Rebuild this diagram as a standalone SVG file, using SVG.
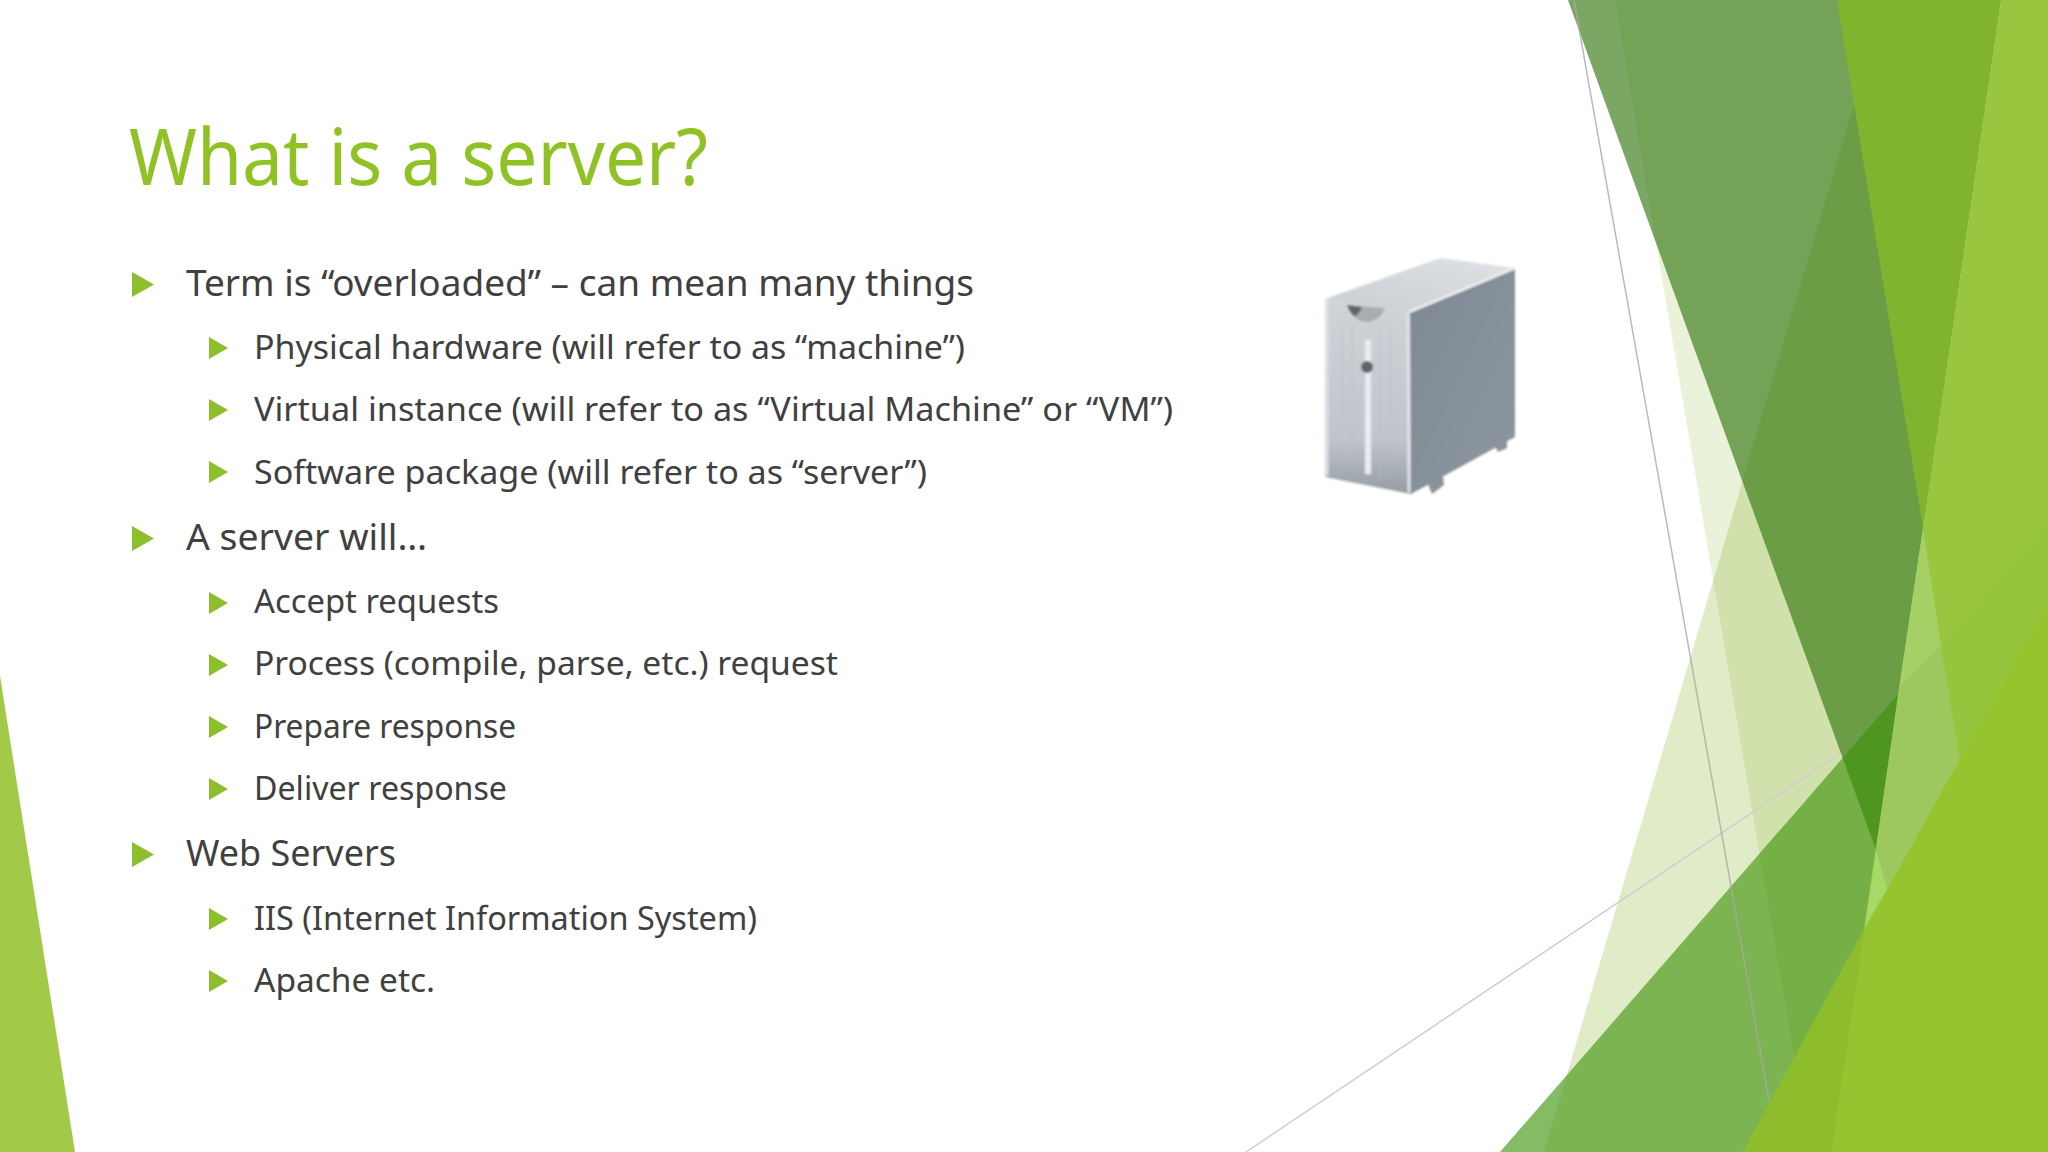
<svg xmlns="http://www.w3.org/2000/svg" width="2048" height="1152" viewBox="0 0 2048 1152">
<defs>
<linearGradient id="gTop" x1="0" y1="1" x2="1" y2="0"><stop offset="0" stop-color="#c9ced2"/><stop offset="1" stop-color="#dfe2e5"/></linearGradient>
<linearGradient id="gFront" x1="0" y1="0" x2="0" y2="1"><stop offset="0" stop-color="#cfd4d8"/><stop offset=".72" stop-color="#bfc5ca"/><stop offset="1" stop-color="#959da3"/></linearGradient>
<linearGradient id="gSide" x1="0" y1="0" x2="1" y2="1"><stop offset="0" stop-color="#7f8993"/><stop offset="1" stop-color="#8d97a0"/></linearGradient>
<filter id="soft" x="-5%" y="-5%" width="110%" height="110%"><feGaussianBlur stdDeviation="1"/></filter>
<path id="b1" d="M0 0L22 12.500L0 25Z"/>
<path id="b2" d="M0 0L19 11L0 22Z"/>
</defs>
<style>
.t{font-family:"Noto Sans",sans-serif;fill:#404040}
.l1{font-size:37px}
.l2{font-size:33px}
.bu{fill:#8DBE2B}
.pale{fill:#8DB52F}
.rib{stroke:#b4bbc1;stroke-width:1;stroke-opacity:.6}
</style>
<rect width="2048" height="1152" fill="#ffffff"/>
<g id="facets">
<polygon points="0,676 75,1152 0,1152" fill="#A2C948"/>
<polygon class="pale" fill-opacity=".18" points="1615,0 2001,0 1831,1152 1810,1152"/>
<polygon class="pale" fill-opacity=".27" points="1885,0 2001,0 1831,1152 1544,1152"/>
<line x1="1246" y1="1152" x2="1838" y2="755" stroke="#cfcdcf" stroke-width="1.500"/>
<polygon fill="#34760F" fill-opacity=".65" points="1568,0 2001,0 1876,850"/>
<polygon fill="#40940D" fill-opacity=".63" points="1500,1152 2048,522 2048,1152"/>
<line x1="1574" y1="0" x2="1769" y2="1101" stroke="#a8aaa8" stroke-width="1.500" stroke-opacity=".8"/>
<polygon fill="#81B42E" points="1837,0 2001,0 1923,528"/>
<polygon fill="#98C73F" points="2001,0 2048,0 2048,1152 1831,1152"/>
<polygon fill="#A4D066" points="1923,528 1941,645 1899,688"/>
<polygon fill="#9CC85E" points="1899,688 1941,645 1960,759 1887,889 1876,850"/>
<polygon fill="#A6D966" points="1876,850 1887,889 1865,927"/>
<polygon fill="#95C53C" points="1941,645 2048,522 2048,600 1960,759"/>
<polygon fill="#94C42E" points="1743,1152 2048,600 2048,1152"/>
<polygon fill="#8DBD2D" points="1743,1152 1865,927 1831,1152"/>
</g>
<g id="server" filter="url(#soft)">
<polygon fill="#8b9299" points="1428,484 1443,476 1444,485 1432,494"/>
<polygon fill="#8b9299" points="1495,446 1507,439 1507,448 1498,452"/>
<polygon fill="url(#gTop)" points="1325,299 1440,258 1515,268 1410,312"/>
<polygon fill="url(#gFront)" points="1325,299 1410,312 1411,494 1325,477"/>
<polygon fill="url(#gSide)" points="1410,312 1515,268 1515,437 1411,494"/>
<line x1="1409" y1="312" x2="1515" y2="268" stroke="#eef0f2" stroke-width="2.500"/>
<line x1="1408" y1="313" x2="1409" y2="492" stroke="#dfe3e6" stroke-width="3"/>
<line x1="1327" y1="300" x2="1327" y2="476" stroke="#dfe3e6" stroke-width="3"/>
<line class="rib" x1="1342" y1="325" x2="1342" y2="470"/>
<line class="rib" x1="1352" y1="325" x2="1352" y2="472"/>
<line class="rib" x1="1380" y1="325" x2="1380" y2="478"/>
<line class="rib" x1="1390" y1="325" x2="1390" y2="480"/>
<path d="M1347 305L1385 308Q1380 322 1365 322Q1353 320 1347 305Z" fill="#a9adb0"/>
<path d="M1347 305L1362 307Q1358 316 1354 316Q1349 312 1347 305Z" fill="#5f666b"/>
<rect x="1365" y="340" width="6" height="134" fill="#e8ebf0"/>
<circle cx="1367" cy="367" r="6" fill="#5d666d"/>
</g>
<g id="title"><text x="129" y="185" textLength="579" lengthAdjust="spacingAndGlyphs" font-family="'Noto Sans',sans-serif" font-size="78" fill="#90C226">What is a server?</text></g>
<g id="bullets">
<use href="#b1" class="bu" x="132" y="272"/><text class="t l1" x="186" y="296" textLength="788" lengthAdjust="spacingAndGlyphs">Term is “overloaded” – can mean many things</text>
<use href="#b2" class="bu" x="209" y="337"/><text class="t l2" x="254" y="359" textLength="711" lengthAdjust="spacingAndGlyphs">Physical hardware (will refer to as “machine”)</text>
<use href="#b2" class="bu" x="209" y="399"/><text class="t l2" x="254" y="421" textLength="919" lengthAdjust="spacingAndGlyphs">Virtual instance (will refer to as “Virtual Machine” or “VM”)</text>
<use href="#b2" class="bu" x="209" y="461"/><text class="t l2" x="254" y="484" textLength="673" lengthAdjust="spacingAndGlyphs">Software package (will refer to as “server”)</text>
<use href="#b1" class="bu" x="132" y="526"/><text class="t l1" x="186" y="550" textLength="241" lengthAdjust="spacingAndGlyphs">A server will…</text>
<use href="#b2" class="bu" x="209" y="592"/><text class="t l2" x="254" y="613" textLength="245" lengthAdjust="spacingAndGlyphs">Accept requests</text>
<use href="#b2" class="bu" x="209" y="654"/><text class="t l2" x="254" y="675" textLength="584" lengthAdjust="spacingAndGlyphs">Process (compile, parse, etc.) request</text>
<use href="#b2" class="bu" x="209" y="716"/><text class="t l2" x="254" y="738" textLength="262" lengthAdjust="spacingAndGlyphs">Prepare response</text>
<use href="#b2" class="bu" x="209" y="778"/><text class="t l2" x="254" y="800" textLength="253" lengthAdjust="spacingAndGlyphs">Deliver response</text>
<use href="#b1" class="bu" x="132" y="842"/><text class="t l1" x="186" y="866" textLength="210" lengthAdjust="spacingAndGlyphs">Web Servers</text>
<use href="#b2" class="bu" x="209" y="908"/><text class="t l2" x="254" y="930" textLength="503" lengthAdjust="spacingAndGlyphs">IIS (Internet Information System)</text>
<use href="#b2" class="bu" x="209" y="970"/><text class="t l2" x="254" y="992" textLength="181" lengthAdjust="spacingAndGlyphs">Apache etc.</text>
</g>
</svg>
